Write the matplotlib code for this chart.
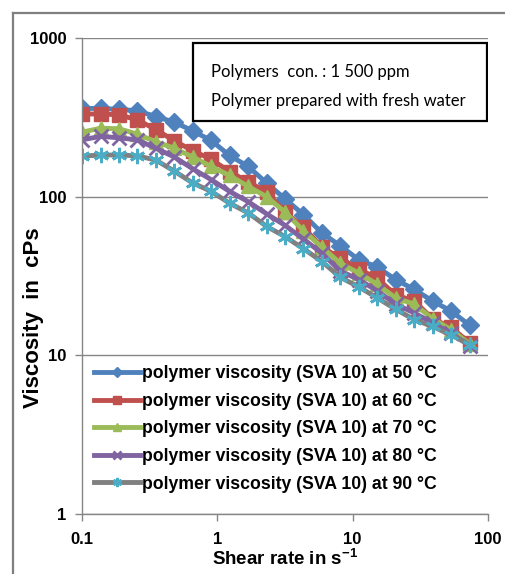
import matplotlib
matplotlib.use('Agg')
import matplotlib.pyplot as plt
from matplotlib.lines import Line2D
from matplotlib.patches import Rectangle

# Shear rate (1/s)
shear_rate = [0.1, 0.137, 0.187, 0.256, 0.351, 0.48, 0.657, 0.9, 1.23, 1.69, 2.31,
              3.16, 4.33, 5.93, 8.11, 11.1, 15.2, 20.8, 28.5, 39.0, 53.4, 73.1]

visc_50 = [360, 360, 355, 348, 320, 295, 260, 226, 182, 155, 122,
           97, 77, 59, 49, 40, 36, 30, 26, 22, 19, 15.5]
visc_60 = [332, 332, 328, 305, 265, 225, 195, 172, 144, 124, 107,
           80, 64, 48, 41, 35, 30.5, 24, 22, 17, 15, 12]
visc_70 = [255, 270, 268, 248, 222, 202, 178, 155, 136, 116, 100,
           80, 61, 48, 38, 33, 28, 23, 21, 17, 14.5, 11.8]
visc_80 = [228, 240, 235, 228, 202, 178, 150, 128, 108, 93, 78,
           66, 54, 44, 34, 30, 25.5, 21, 18.5, 16, 13.8, 11.5]
visc_90 = [180, 183, 183, 181, 170, 145, 122, 108, 91, 79, 65,
           56, 47, 39, 31, 27, 23, 19.5, 16.8, 15.2, 13.4, 11.7]

labels = ['polymer viscosity (SVA 10) at 50 °C',
          'polymer viscosity (SVA 10) at 60 °C',
          'polymer viscosity (SVA 10) at 70 °C',
          'polymer viscosity (SVA 10) at 80 °C',
          'polymer viscosity (SVA 10) at 90 °C']

plt.rcParams['font.family'] = ['Liberation Sans', 'DejaVu Sans']
plt.rcParams['mathtext.fontset'] = 'custom'
plt.rcParams['mathtext.rm'] = 'Liberation Sans'
plt.rcParams['mathtext.bf'] = 'Liberation Sans:bold'

fig = plt.figure(figsize=(5.05, 5.74), dpi=100)
ax = fig.add_axes([82/505, 60/574, 406/505, 476/574])

styles = [
    dict(color='#4F81BD', marker='D', ms=9, mfc='#4F81BD', mec='#4F81BD'),
    dict(color='#C0504D', marker='s', ms=10, mfc='#C0504D', mec='#C0504D'),
    dict(color='#9BBB59', marker='^', ms=10, mfc='#9BBB59', mec='#9BBB59'),
    dict(color='#8064A2', marker='x', ms=10, mew=2, mec='#8064A2'),
    dict(color='#808080', marker=(6, 2, 0), ms=11, mew=2, mec='#4BACC6'),
]
series = [visc_50, visc_60, visc_70, visc_80, visc_90]
for y, st, lab in zip(series, styles, labels):
    ax.plot(shear_rate, y, lw=3.5, label=lab, **st)

ax.set_xscale('log')
ax.set_yscale('log')
ax.set_xlim(0.1, 100)
ax.set_ylim(1, 1000)
ax.set_xticks([0.1, 1, 10, 100])
ax.set_xticklabels(['0.1', '1', '10', '100'])
ax.set_yticks([1, 10, 100, 1000])
ax.set_yticklabels(['1', '10', '100', '1000'])
ax.minorticks_off()
ax.tick_params(axis='both', colors='#868686', labelcolor='black', labelsize=12,
               length=5, width=1)
ax.tick_params(axis='x', pad=8)
ax.tick_params(axis='y', pad=6)
for t in ax.get_xticklabels() + ax.get_yticklabels():
    t.set_fontweight('bold')
ax.grid(axis='y', color='#868686', lw=1)
ax.set_axisbelow(True)
for s in ['top', 'right']:
    ax.spines[s].set_visible(False)
for s in ['left', 'bottom']:
    ax.spines[s].set_color('#868686')
    ax.spines[s].set_linewidth(1)

ax.set_ylabel('Viscosity  in  cPs', fontsize=16, fontweight='bold')
ax.yaxis.set_label_coords(-0.093, 0.412)
ax.set_xlabel(r'Shear rate in s$^{\mathbf{-1}}$', fontsize=13.5, fontweight='bold')
ax.xaxis.set_label_coords(0.5, -0.072)

leg = ax.legend(loc='lower left', bbox_to_anchor=(0.012, 0.03), frameon=False,
                prop={'weight': 'bold', 'size': 12.7},
                handlelength=2.6, handletextpad=0.15, labelspacing=0.6,
                markerscale=0.6, borderaxespad=0)

# note box
ax.add_patch(Rectangle((0.273, 0.826), 0.724, 0.163, transform=ax.transAxes,
                       fc='white', ec='black', lw=1.6, zorder=5))
ax.text(0.318, 0.929, 'Polymers  con. : 1 500 ppm', transform=ax.transAxes,
        ha='left', va='center', fontsize=12, family=['Lato', 'DejaVu Sans'], zorder=6)
ax.text(0.318, 0.868, 'Polymer prepared with fresh water', transform=ax.transAxes,
        ha='left', va='center', fontsize=12, family=['Lato', 'DejaVu Sans'], zorder=6)

# outer chart frame
fig.add_artist(Line2D([13/505, 13/505], [0, 1 - 13/574], color='#7F7F7F', lw=1.6))
fig.add_artist(Line2D([13/505, 1], [1 - 13/574, 1 - 13/574], color='#7F7F7F', lw=1.6))

fig.savefig('out.png', dpi=100)
